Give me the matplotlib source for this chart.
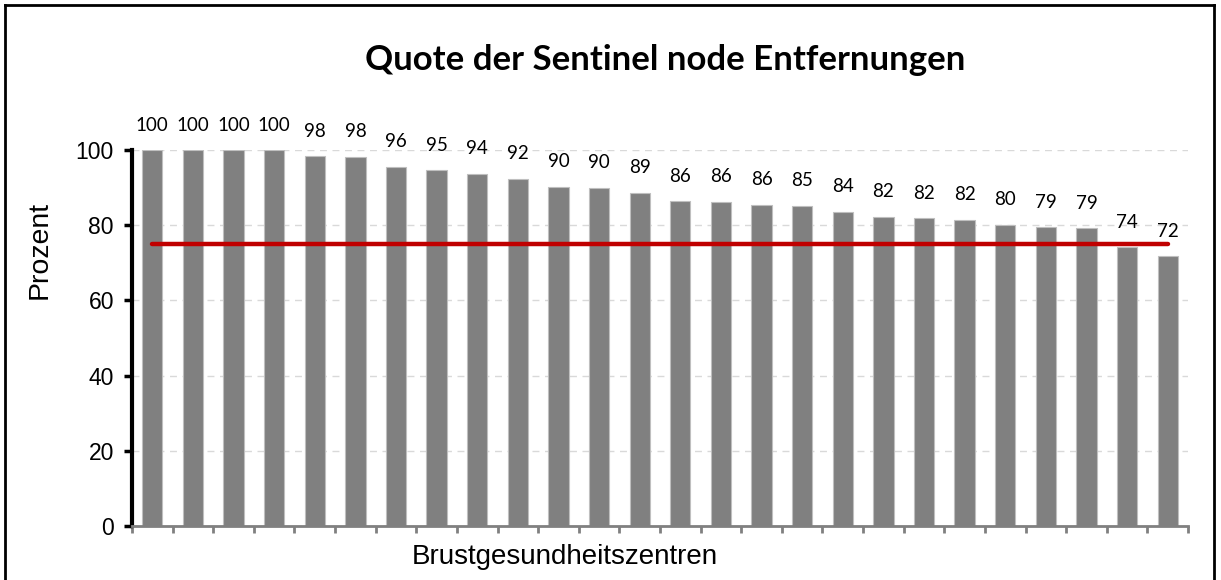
import matplotlib.pyplot as plt
from matplotlib.lines import Line2D
import numpy as np

# Quote je Zentrum (Prozent), Beschriftung gerundet
werte = [100, 100, 100, 100, 98.4, 98.2, 95.6, 94.6, 93.7, 92.3, 90.2, 90.0, 88.6,
         86.4, 86.2, 85.5, 85.2, 83.6, 82.2, 81.9, 81.5, 80.1, 79.4, 79.2, 74.2, 71.8]
beschriftung = [100, 100, 100, 100, 98, 98, 96, 95, 94, 92, 90, 90, 89,
                86, 86, 86, 85, 84, 82, 82, 82, 80, 79, 79, 74, 72]
zielwert = 75
y_ticks = [0, 20, 40, 60, 80, 100]

W, H = 1221, 580
fig = plt.figure(figsize=(W / 100, H / 100), dpi=100)
ax = fig.add_axes([132 / W, 1 - 526 / H, (1188 - 132) / W, (526 - 150) / H])

x = np.arange(len(werte))
ax.bar(x, werte, width=0.5, color='#808080', edgecolor='#BFBFBF', linewidth=0.8, zorder=2)

# Zielwert-Linie von erster bis letzter Saeule
ax.plot([x[0], x[-1]], [zielwert, zielwert], color='#C00000', linewidth=3.2, zorder=3,
        solid_capstyle='round')

for xi, v, lab in zip(x, werte, beschriftung):
    ax.annotate(str(lab), (xi, v), xytext=(0, 18), textcoords='offset points',
                ha='center', va='center', fontsize=13.5, family='Lato',
                annotation_clip=False)

ax.set_xlim(-0.5, len(werte) - 0.5)
ax.set_ylim(0, 100)
ax.set_yticks(y_ticks)
ax.set_xticks(np.arange(-0.5, len(werte), 1.0))
ax.set_xticklabels([])
ax.tick_params(axis='x', length=5, width=2, color='#808080')
ax.tick_params(axis='y', length=6, width=2.5, color='black', labelsize=16.5, pad=7)
for lbl in ax.get_yticklabels():
    lbl.set_family('Liberation Sans')

ax.yaxis.grid(True, linestyle=(0, (5, 4)), color='#D9D9D9', linewidth=1, zorder=0)
ax.set_axisbelow(True)
ax.spines['top'].set_visible(False)
ax.spines['right'].set_visible(False)
ax.spines['left'].set_linewidth(3)
ax.spines['left'].set_color('black')
ax.spines['bottom'].set_linewidth(2)
ax.spines['bottom'].set_color('#808080')

fig.text(40 / W, 1 - 250 / H, 'Prozent', fontsize=20.5, family='Liberation Sans',
         rotation=90, ha='center', va='center')
fig.text(412 / W, 1 - 557 / H, 'Brustgesundheitszentren', fontsize=20,
         family='Liberation Sans', ha='left', va='center')
fig.text(665 / W, 1 - 60 / H, 'Quote der Sentinel node Entfernungen', fontsize=25,
         family='Lato', weight='bold', ha='center', va='center')

# Rahmen um das Diagramm
fig.add_artist(Line2D([5 / W, 5 / W], [0, 1 - 5 / H], color='black', linewidth=2))
fig.add_artist(Line2D([1214 / W, 1214 / W], [0, 1 - 5 / H], color='black', linewidth=2))
fig.add_artist(Line2D([5 / W, 1214 / W], [1 - 5 / H, 1 - 5 / H], color='black', linewidth=2))

fig.savefig('out.png', dpi=100)
